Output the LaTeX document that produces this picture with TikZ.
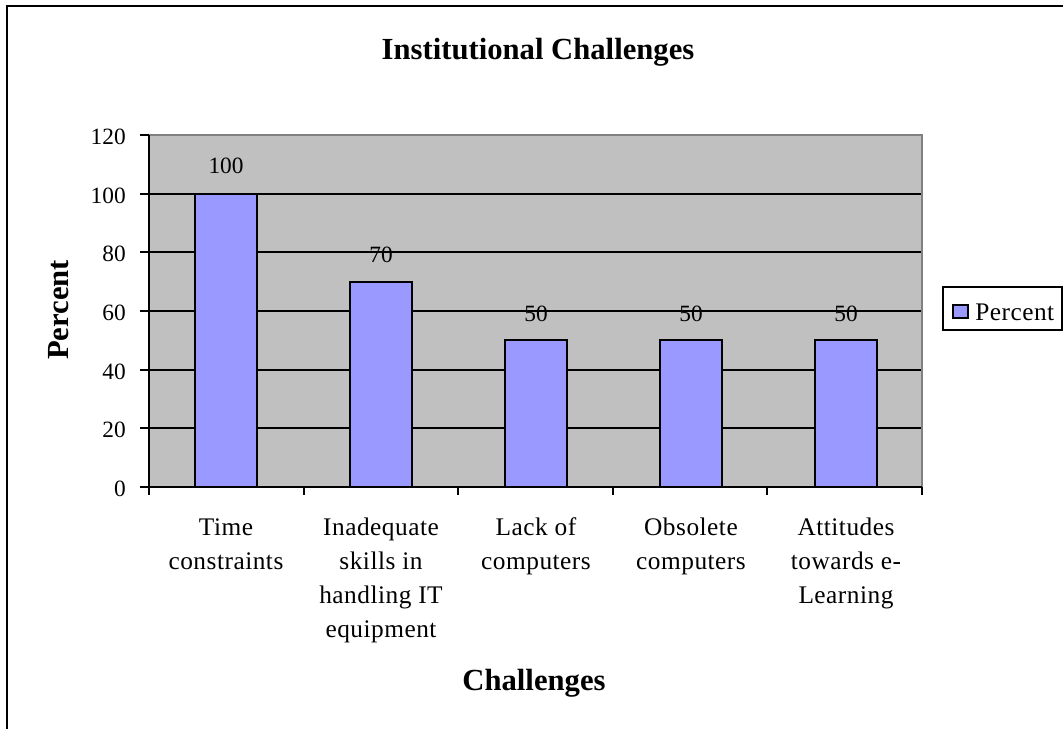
\documentclass[tikz,border=0pt]{standalone}
\usepackage{fontspec}
\setmainfont{Liberation Serif}
\newfontfamily\lsfont[LetterSpace=2]{Liberation Serif}
\definecolor{plotbg}{HTML}{C0C0C0}
\definecolor{barfill}{HTML}{9999FF}
\definecolor{plotedge}{HTML}{808080}
\begin{document}
\begin{tikzpicture}[x=0.75pt,y=-0.75pt,
  grid/.style={line width=1.4pt,black},
  barbox/.style={draw=black,line width=1.4pt,fill=barfill},
  numlab/.style={font=\fontsize{17.5}{20}\selectfont,inner sep=0pt},
  catlab/.style={font=\lsfont\fontsize{19}{25.5}\selectfont,align=center,anchor=north,inner sep=0pt},
  ttl/.style={font=\fontsize{23}{27}\selectfont\bfseries,inner sep=0pt,anchor=base}]
\useasboundingbox (0,0) rectangle (1063,728);
\begin{scope}
\clip (0,0) rectangle (1063,728);
\draw[line width=2.2pt] (7,6) rectangle (1080,745);
\end{scope}
% plot area
\fill[plotbg] (149,135) rectangle (922,487);
\foreach \v in {20,40,60,80,100}{
  \draw[grid] (149,{487-\v*2.9333}) -- (922,{487-\v*2.9333});
}
\draw[plotedge,line width=1.3pt] (149,135) -- (922,135) -- (922,487);
% bars
\draw[barbox] (195,487) rectangle (257,{487-100*2.9333});
\draw[barbox] (350,487) rectangle (412,{487-70*2.9333});
\draw[barbox] (505,487) rectangle (567,{487-50*2.9333});
\draw[barbox] (660,487) rectangle (722,{487-50*2.9333});
\draw[barbox] (815,487) rectangle (877,{487-50*2.9333});
% axes
\draw[line width=1.5pt] (149,135) -- (149,495);
\draw[line width=1.5pt] (140,487) -- (922,487);
\foreach \v in {0,20,40,60,80,100,120}{
  \draw[line width=1.5pt] (140,{487-\v*2.9333}) -- (149,{487-\v*2.9333});
  \node[numlab,anchor=base east] (t\v) at (126,{487-\v*2.9333+9.5}) {\v};
}
\foreach \x in {149,303.6,458.2,612.8,767.4,922}{
  \draw[line width=1.5pt] (\x,487) -- (\x,495);
}
% value labels
\node[numlab,anchor=base] (v1) at (226,173) {100};
\node[numlab,anchor=base] (v2) at (381,262) {70};
\node[numlab,anchor=base] (v3) at (536,321) {50};
\node[numlab,anchor=base] (v4) at (691,321) {50};
\node[numlab,anchor=base] (v5) at (846,321) {50};
% category labels
\node[catlab] (c1) at (226,511) {\strut Time\\constraints};
\node[catlab] (c2) at (381,511) {\strut Inadequate\\skills in\\handling IT\\equipment};
\node[catlab] (c3) at (536,511) {\strut Lack of\\computers};
\node[catlab] (c4) at (691,511) {\strut Obsolete\\computers};
\node[catlab] (c5) at (846,511) {\strut Attitudes\\towards e-\\Learning};
% titles
\node[ttl] (title) at (538,59) {Institutional Challenges};
\node[ttl] (xt) at (534,690) {Challenges};
\node[ttl,rotate=90] (yt) at (68,310) {Percent};
% legend
\draw[line width=1.3pt] (943,287) rectangle (1062,330);
\draw[barbox,line width=1.1pt] (953,305) rectangle (968,318);
\node[catlab,anchor=base west] (leg) at (975,320) {Percent};
\end{tikzpicture}
\end{document}
